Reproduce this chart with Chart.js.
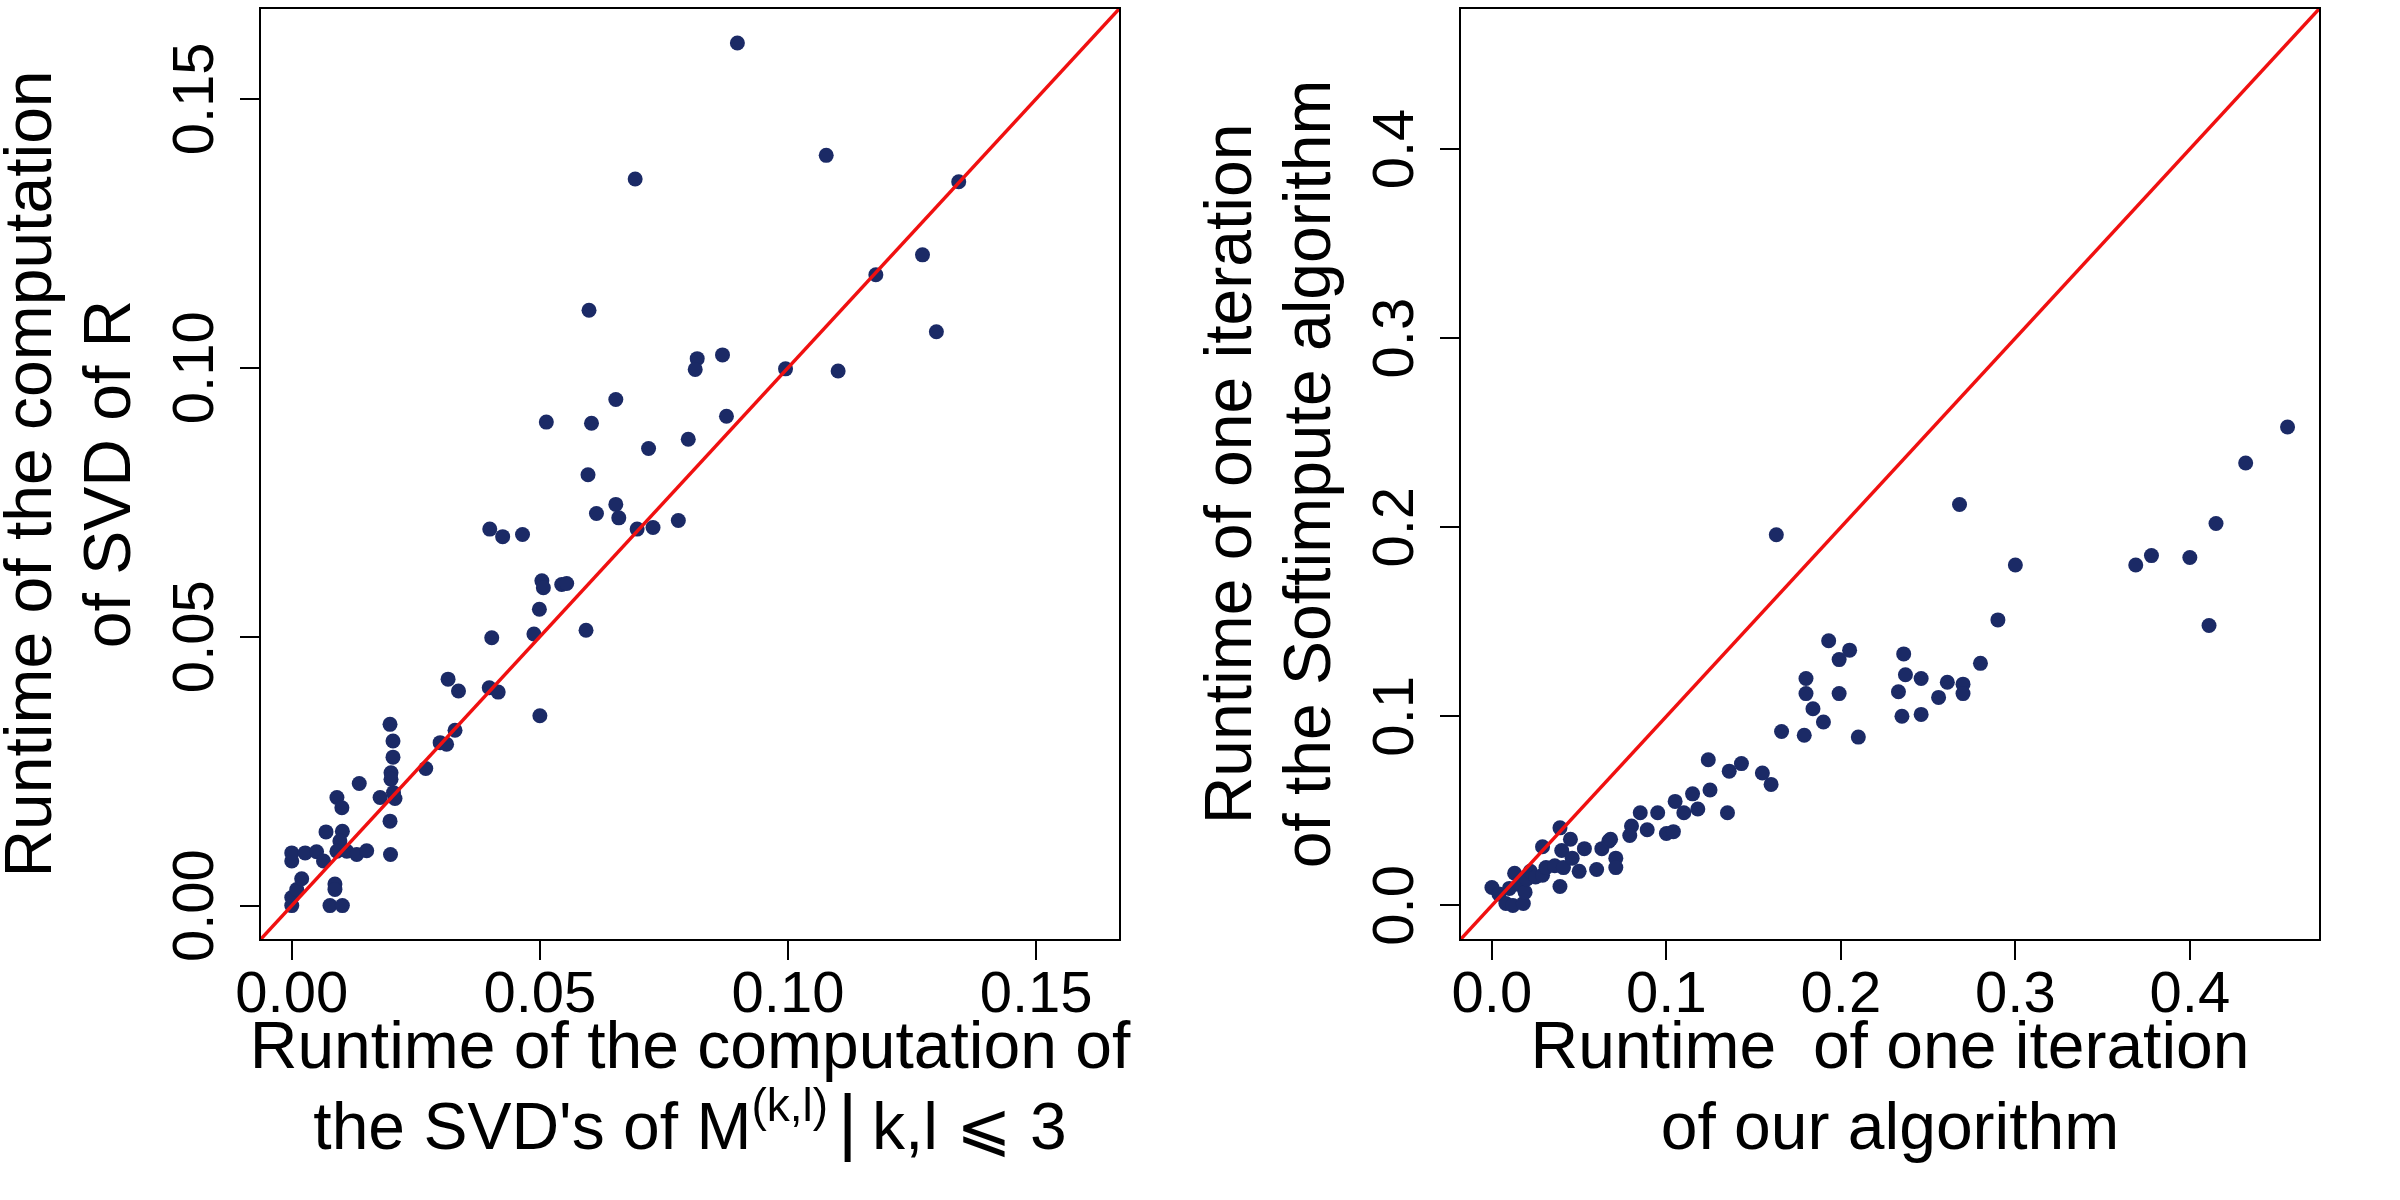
<!DOCTYPE html>
<html>
<head>
<meta charset="utf-8">
<script src="https://cdn.jsdelivr.net/npm/chart.js@4"></script>
<style>
  body { margin: 0; background: #fff; }
  .row { display: flex; width: 2400px; height: 1200px; }
  canvas { display: block; }
</style>
</head>
<body>
<div class="row">
  <canvas id="left" width="1200" height="1200"></canvas>
  <canvas id="right" width="1200" height="1200"></canvas>
</div>
<script>
// left panel: SVD of R vs SVD's of M^(k,l)
const svdBlocksX = [0.000, 0.000, 0.001, 0.002, 0.000, 0.000, 0.0027, 0.005, 0.0064, 0.0087, 0.0087, 0.0077, 0.0102,
  0.0069, 0.0102, 0.0097, 0.0091, 0.0111, 0.0131, 0.0151, 0.0091, 0.0101, 0.0136, 0.0178, 0.0208, 0.0205,
  0.0198, 0.0199, 0.0198, 0.0204, 0.0204, 0.0200, 0.0200, 0.0270, 0.0299, 0.0312, 0.0329, 0.0315, 0.0336,
  0.0398, 0.0416, 0.0500, 0.0403, 0.0488, 0.0499, 0.0504, 0.0507, 0.0544, 0.0554, 0.0593, 0.0399, 0.0425,
  0.0465, 0.0599, 0.0817, 0.0813, 0.0868, 0.0995, 0.1101, 0.0653, 0.0513, 0.0604, 0.0876, 0.0799, 0.0719,
  0.0597, 0.0653, 0.0614, 0.0659, 0.0696, 0.0728, 0.0779, 0.0898, 0.0692, 0.1077, 0.1344, 0.1271, 0.1177, 0.1299];
const svdRY = [0.000, 0.0015, 0.003, 0.005, 0.0083, 0.0098, 0.0098, 0.010, 0.0083, 0.004, 0.003, 0.000, 0.000,
  0.0137, 0.0138, 0.012, 0.0101, 0.0101, 0.0095, 0.0102, 0.0201, 0.0182, 0.0227, 0.0201, 0.0199, 0.021,
  0.0157, 0.0095, 0.0337, 0.0306, 0.0276, 0.0247, 0.0235, 0.0255, 0.0303, 0.0300, 0.0326, 0.0421, 0.0399,
  0.0405, 0.0397, 0.0353, 0.0498, 0.0505, 0.0551, 0.0604, 0.0591, 0.0597, 0.0599, 0.0512, 0.0700, 0.0686,
  0.0690, 0.1107, 0.1017, 0.0997, 0.1024, 0.0998, 0.0994, 0.0941, 0.0899, 0.0897, 0.0910, 0.0867, 0.0850,
  0.0801, 0.0746, 0.0729, 0.0721, 0.0700, 0.0703, 0.0716, 0.1604, 0.1351, 0.1395, 0.1346, 0.1210, 0.1173, 0.1067];

// right panel: one iteration of Softimpute vs our algorithm
const oursX = [0.000, 0.004, 0.008, 0.012, 0.018, 0.010, 0.013, 0.016, 0.019, 0.020, 0.022, 0.025, 0.029, 0.029,
  0.031, 0.036, 0.039, 0.039, 0.040, 0.041, 0.045, 0.046, 0.050, 0.053, 0.060, 0.063, 0.067, 0.068, 0.071, 0.071,
  0.080, 0.079, 0.085, 0.089, 0.095, 0.100, 0.104, 0.105, 0.110, 0.115, 0.118, 0.124, 0.125, 0.135, 0.136,
  0.143, 0.155, 0.160, 0.163, 0.166, 0.179, 0.180, 0.180, 0.184, 0.190, 0.193, 0.199, 0.205, 0.199, 0.210,
  0.233, 0.235, 0.236, 0.237, 0.246, 0.246, 0.256, 0.261, 0.268, 0.270, 0.270, 0.280, 0.290, 0.300,
  0.369, 0.378, 0.400, 0.411, 0.415, 0.432, 0.456];
const softY = [0.0095, 0.006, 0.001, 0.000, 0.001, 0.009, 0.017, 0.011, 0.007, 0.014, 0.018, 0.015, 0.016, 0.031,
  0.020, 0.021, 0.010, 0.041, 0.029, 0.020, 0.035, 0.025, 0.018, 0.030, 0.019, 0.030, 0.034, 0.035, 0.025, 0.020,
  0.042, 0.037, 0.049, 0.040, 0.049, 0.038, 0.039, 0.055, 0.049, 0.059, 0.051, 0.077, 0.061, 0.049, 0.071,
  0.075, 0.070, 0.064, 0.196, 0.092, 0.090, 0.120, 0.112, 0.104, 0.097, 0.140, 0.130, 0.135, 0.112, 0.089,
  0.113, 0.100, 0.133, 0.122, 0.120, 0.101, 0.110, 0.118, 0.212, 0.117, 0.112, 0.128, 0.151, 0.180,
  0.180, 0.185, 0.184, 0.148, 0.202, 0.234, 0.253];

// axes
const leftLimits = [-0.0064, 0.1669];
const leftTicks = [0, 0.05, 0.10, 0.15];
const leftTickLabels = ['0.00', '0.05', '0.10', '0.15'];
const rightLimits = [-0.0183, 0.4746];
const rightTicks = [0, 0.1, 0.2, 0.3, 0.4];
const rightTickLabels = ['0.0', '0.1', '0.2', '0.3', '0.4'];

const FONT = "'Liberation Sans', Arial, 'DejaVu Sans', sans-serif";
const TICK_PX = 58;
const TITLE_PX = 66;

function titleLeftX(ctx, cx, base1, base2) {
  ctx.font = TITLE_PX + 'px ' + FONT;
  ctx.textAlign = 'center';
  ctx.fillText('Runtime of the computation of', cx, base1);
  // second line with the superscript
  const a = "the SVD's of M";
  const sup = '(k,l)';
  const b = 'k,l \u2A7D 3';
  ctx.font = TITLE_PX + 'px ' + FONT;
  const wa = ctx.measureText(a).width;
  const wb = ctx.measureText(b).width;
  ctx.font = '46px ' + FONT;
  const ws = ctx.measureText(sup).width;
  const gap1 = 14, barW = 8, gap2 = 22;
  const total = wa + ws + gap1 + barW + gap2 + wb;
  let x = cx - total / 2;
  ctx.textAlign = 'left';
  ctx.font = TITLE_PX + 'px ' + FONT;
  ctx.fillText(a, x, base2);
  x += wa;
  ctx.font = '46px ' + FONT;
  ctx.fillText(sup, x, base2 - 28);
  x += ws + gap1;
  ctx.font = '74px ' + FONT;
  ctx.fillText('|', x - 4, base2 - 2);
  x += barW + gap2;
  ctx.font = TITLE_PX + 'px ' + FONT;
  ctx.fillText(b, x, base2);
}

function makePanel(id, xs, ys, limits, tickVals, tickLabels, xTitle, yTitle) {
  const points = xs.map((x, i) => ({ x: x, y: ys[i] }));
  const diag = limits.map(v => ({ x: v, y: v }));

  const decor = {
    id: 'decor',
    afterDraw(chart) {
      const ctx = chart.ctx;
      const area = chart.chartArea;
      const sx = chart.scales.x, sy = chart.scales.y;
      ctx.save();
      ctx.strokeStyle = '#000';
      ctx.lineWidth = 2;
      ctx.strokeRect(area.left, area.top, area.right - area.left, area.bottom - area.top);

      ctx.fillStyle = '#000';
      ctx.font = TICK_PX + 'px ' + FONT;
      ctx.textAlign = 'center';
      ctx.textBaseline = 'alphabetic';
      tickVals.forEach((v, i) => {
        ctx.fillText(tickLabels[i], sx.getPixelForValue(v), 1012);
      });
      tickVals.forEach((v, i) => {
        ctx.save();
        ctx.translate(213, sy.getPixelForValue(v));
        ctx.rotate(-Math.PI / 2);
        ctx.fillText(tickLabels[i], 0, 0);
        ctx.restore();
      });

      const cx = (area.left + area.right) / 2;
      const cy = (area.top + area.bottom) / 2;
      if (typeof xTitle === 'function') {
        xTitle(ctx, cx, 1068, 1149);
      } else {
        ctx.font = TITLE_PX + 'px ' + FONT;
        ctx.textAlign = 'center';
        ctx.fillText(xTitle[0], cx, 1068);
        ctx.fillText(xTitle[1], cx, 1149);
      }
      ctx.font = TITLE_PX + 'px ' + FONT;
      ctx.textAlign = 'center';
      ctx.save();
      ctx.translate(0, cy);
      ctx.rotate(-Math.PI / 2);
      ctx.fillText(yTitle[0], 0, 51);
      ctx.fillText(yTitle[1], 0, 130);
      ctx.restore();
      ctx.restore();
    }
  };

  const axis = (fit) => ({
    type: 'linear',
    min: limits[0],
    max: limits[1],
    afterBuildTicks: s => { s.ticks = tickVals.map(v => ({ value: v })); },
    afterFit: fit,
    ticks: { display: false },
    grid: { display: true, drawOnChartArea: false, drawTicks: true, tickLength: 20, color: '#000', lineWidth: 2 },
    border: { display: true, color: '#000', width: 2 }
  });

  new Chart(document.getElementById(id), {
    type: 'scatter',
    data: {
      datasets: [
        {
          type: 'line',
          data: diag,
          borderColor: '#f01010',
          borderWidth: 3.5,
          pointRadius: 0,
          fill: false,
          order: 0
        },
        {
          data: points,
          backgroundColor: '#1b2a66',
          borderWidth: 0,
          pointRadius: 7.5,
          pointHoverRadius: 7.5,
          order: 1
        }
      ]
    },
    options: {
      responsive: false,
      animation: false,
      layout: { padding: { top: 8, right: 80, left: 0, bottom: 0 } },
      plugins: { legend: { display: false }, tooltip: { enabled: false } },
      scales: {
        x: axis(s => { s.height = 260; }),
        y: axis(s => { s.width = 260; })
      }
    },
    plugins: [decor]
  });
}

makePanel('left', svdBlocksX, svdRY, leftLimits, leftTicks, leftTickLabels,
  titleLeftX, ['Runtime of the computation', 'of SVD of R']);
makePanel('right', oursX, softY, rightLimits, rightTicks, rightTickLabels,
  ['Runtime  of one iteration', 'of our algorithm'],
  ['Runtime of one iteration', 'of the Softimpute algorithm']);
</script>
</body>
</html>
